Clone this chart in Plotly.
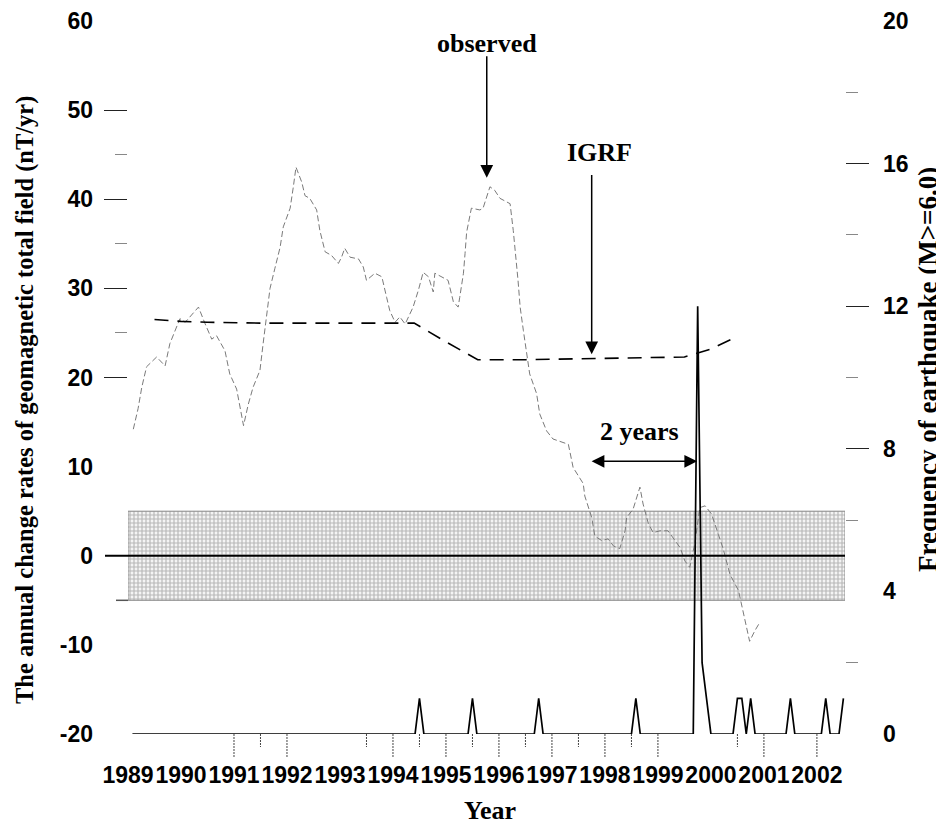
import plotly.graph_objects as go

# ---------------- data ----------------
YEARS = list(range(1989, 2003))
YEAR_LABELS = [str(y) for y in YEARS]
LEFT_TICKS = [-20, -10, 0, 10, 20, 30, 40, 50, 60]
LEFT_LABELS = ["-20", "-10", "0", "10", "20", "30", "40", "50", "60"]
RIGHT_TICKS = [0, 4, 8, 12, 16, 20]

# observed annual change rate (nT/yr), decimal year
OBS_X = [1989.10, 1989.19, 1989.26, 1989.35, 1989.54, 1989.70, 1989.79, 1989.92, 1989.98,
         1990.08, 1990.33, 1990.45, 1990.58, 1990.67, 1990.83, 1990.92, 1991.05, 1991.18,
         1991.27, 1991.36, 1991.49, 1991.55, 1991.62, 1991.68, 1991.77, 1991.87, 1991.93,
         1992.06, 1992.12, 1992.17, 1992.28, 1992.34, 1992.43, 1992.56, 1992.62, 1992.72,
         1992.84, 1992.97, 1993.03, 1993.09, 1993.19, 1993.35, 1993.44, 1993.50, 1993.66,
         1993.79, 1993.88, 1993.94, 1994.04, 1994.13, 1994.23, 1994.38, 1994.48, 1994.57,
         1994.67, 1994.76, 1994.79, 1995.04, 1995.14, 1995.23, 1995.26, 1995.33, 1995.36,
         1995.39, 1995.48, 1995.64, 1995.70, 1995.83, 1995.92, 1996.02, 1996.21, 1996.27,
         1996.36, 1996.40, 1996.46, 1996.52, 1996.58, 1996.71, 1996.77, 1996.90, 1997.02,
         1997.31, 1997.40, 1997.59, 1997.62, 1997.75, 1997.81, 1997.94, 1998.06, 1998.16,
         1998.28, 1998.38, 1998.41, 1998.53, 1998.66, 1998.72, 1998.82, 1998.91, 1999.04,
         1999.19, 1999.42, 1999.51, 1999.60, 1999.70, 1999.79, 1999.89, 2000.01, 2000.14,
         2000.23, 2000.36, 2000.52, 2000.59, 2000.62, 2000.73, 2000.83, 2000.92]
OBS_Y = [14.2, 16.5, 18.9, 21.2, 22.3, 21.3, 23.8, 25.7, 26.6,
         26.2, 27.9, 26.1, 24.3, 24.7, 23.0, 20.4, 18.7, 14.6,
         17.0, 18.9, 20.8, 23.8, 27.5, 30.0, 32.2, 34.6, 36.9,
         39.0, 41.4, 43.6, 41.9, 40.4, 40.1, 38.8, 36.5, 34.1,
         33.7, 32.8, 33.5, 34.5, 33.5, 33.3, 32.4, 30.9, 31.7,
         31.3, 29.0, 27.5, 26.2, 26.8, 26.0, 27.9, 29.8, 31.8,
         31.3, 29.6, 31.7, 30.9, 28.5, 27.9, 29.0, 31.7, 33.9,
         36.3, 39.0, 38.8, 39.0, 41.4, 41.0, 40.1, 39.5, 36.5,
         30.9, 27.9, 25.3, 22.6, 20.4, 18.2, 15.9, 14.0, 13.1,
         12.5, 9.9, 8.1, 6.7, 4.3, 2.2, 1.7, 1.9, 1.1,
         0.8, 2.8, 4.3, 5.2, 7.7, 5.8, 3.6, 2.6, 2.8,
         2.8, 0.9, -0.6, -1.3, 1.5, 5.4, 5.6, 4.7, 2.4,
         0.8, -2.1, -3.9, -5.8, -6.7, -9.6, -8.4, -7.5]

# IGRF model change rate (nT/yr)
IGRF_X = [1989.5, 1990.0, 1990.5, 1991.5, 1992.5, 1993.5, 1994.4, 1995.0, 1995.6,
          1996.5, 1997.5, 1998.5, 1999.5, 2000.0, 2000.5]
IGRF_Y = [26.5, 26.3, 26.2, 26.1, 26.1, 26.1, 26.1, 24.0, 22.0,
          22.0, 22.1, 22.2, 22.3, 23.2, 24.6]

# earthquake frequency (M>=6.0), months counted from Jan 1989
EQ_FIRST_MONTH = 1
EQ_LAST_MONTH = 162
EQ_EVENT_MONTHS = [66, 78, 93, 115, 129, 130, 131, 138, 139, 141, 150, 158, 162]
EQ_EVENT_COUNTS = [1, 1, 1, 1, 12, 2, 1, 1, 1, 1, 1, 1, 1]

BAND_LIMIT = 5  # +/- band (nT/yr)

# x tick marks (half-year), long and short
X_TICKS_LONG = [1991.0, 1992.0, 1994.0, 1995.0, 1996.0, 1997.0, 1998.0, 1999.0, 2001.0, 2002.0]
X_TICKS_SHORT = [1991.5, 1993.5, 1994.5, 1995.5, 1996.5, 1997.5, 1998.5, 2000.5]

X_RANGE = [1989.0, 2002.53]
Y_LEFT_RANGE = [-20, 60]
Y_RIGHT_RANGE = [0, 20]

# ---------------- build ----------------
eq_counts = {m: c for m, c in zip(EQ_EVENT_MONTHS, EQ_EVENT_COUNTS)}
eq_x = [1989 + m / 12 for m in range(EQ_FIRST_MONTH, EQ_LAST_MONTH + 1)]
eq_y = [eq_counts.get(m, 0) for m in range(EQ_FIRST_MONTH, EQ_LAST_MONTH + 1)]

SANS = "Liberation Sans"
SERIF = "Liberation Serif"

# page body has an 8px margin, so the figure is sized/offset to compensate
W, H = 936, 818
ML, MR, MT, MB = 120, 99, 13, 92
PW = W - ML - MR   # 717
PH = H - MT - MB   # 713

fig = go.Figure()

# band
fig.add_trace(go.Scatter(
    x=[X_RANGE[0], X_RANGE[1], X_RANGE[1], X_RANGE[0], X_RANGE[0]],
    y=[-BAND_LIMIT, -BAND_LIMIT, BAND_LIMIT, BAND_LIMIT, -BAND_LIMIT],
    fill="toself", mode="lines",
    line=dict(color="#8a8a8a", width=1),
    fillcolor="white",
    fillpattern=dict(shape="+", size=4, solidity=0.5, fgcolor="#7c7c7c", bgcolor="#f4f4f4"),
    hoverinfo="skip", showlegend=False, yaxis="y"))

fig.add_trace(go.Scatter(x=OBS_X, y=OBS_Y, mode="lines",
                         line=dict(color="#7a7a7a", width=1, dash="6px,3px"),
                         showlegend=False, yaxis="y"))
fig.add_trace(go.Scatter(x=IGRF_X, y=IGRF_Y, mode="lines",
                         line=dict(color="black", width=1.6, dash="14px,9px"),
                         showlegend=False, yaxis="y"))
fig.add_trace(go.Scatter(x=eq_x, y=eq_y, mode="lines",
                         line=dict(color="black", width=1.7),
                         showlegend=False, yaxis="y2", cliponaxis=False))
# empty traces so the tick-only axes get drawn
fig.add_trace(go.Scatter(x=[], y=[], yaxis="y3", showlegend=False, hoverinfo="skip"))
fig.add_trace(go.Scatter(x=[], y=[], yaxis="y4", showlegend=False, hoverinfo="skip"))

# zero line and band bottom extension
fig.add_shape(type="line", xref="paper", yref="y", x0=-23 / PW, x1=1, y0=0, y1=0,
              line=dict(color="black", width=2), layer="above")
fig.add_shape(type="line", xref="paper", yref="y", x0=-12 / PW, x1=0, y0=-BAND_LIMIT, y1=-BAND_LIMIT,
              line=dict(color="#555", width=1.5), layer="above")

# dotted x tick marks
for xv in X_TICKS_LONG:
    fig.add_shape(type="line", xref="x", yref="paper", x0=xv, x1=xv, y0=0, y1=-24 / PH,
                  line=dict(color="#444", width=1, dash="2px,1px"))
for xv in X_TICKS_SHORT:
    fig.add_shape(type="line", xref="x", yref="paper", x0=xv, x1=xv, y0=0, y1=-13 / PH,
                  line=dict(color="#444", width=1, dash="2px,1px"))

tickfont = dict(family=SANS, size=23, color="black", weight="bold")
titlefont = dict(family=SERIF, size=24.5, color="black", weight="bold")
notefont = dict(family=SERIF, size=26, color="black", weight="bold")

fig.update_layout(
    width=W, height=H,
    margin=dict(l=ML, r=MR, t=MT, b=MB, autoexpand=False),
    paper_bgcolor="white", plot_bgcolor="white",
    showlegend=False,
    xaxis=dict(range=X_RANGE, tickvals=YEARS, ticktext=YEAR_LABELS, ticks="", tickangle=0,
               showgrid=False, zeroline=False, showline=False, automargin=False,
               tickfont=tickfont, ticklabelstandoff=25),
    yaxis=dict(range=Y_LEFT_RANGE, tickvals=LEFT_TICKS, ticktext=LEFT_LABELS, ticks="",
               showgrid=False, zeroline=False, showline=False, automargin=False,
               tickfont=tickfont, ticklabelstandoff=34),
    yaxis3=dict(range=Y_LEFT_RANGE, overlaying="y", side="left", automargin=False,
                tickvals=[20, 30, 40, 50], ticks="outside", ticklen=23, tickwidth=1,
                tickcolor="#222", showticklabels=False, showgrid=False, zeroline=False,
                showline=False,
                minor=dict(tickvals=[25, 35, 45], ticks="outside", ticklen=12,
                           tickcolor="#888", tickwidth=1, showgrid=False)),
    yaxis2=dict(range=Y_RIGHT_RANGE, overlaying="y", side="right", automargin=False,
                tickvals=RIGHT_TICKS, ticks="",
                showgrid=False, zeroline=False, showline=False,
                tickfont=tickfont, ticklabelstandoff=37),
    yaxis4=dict(range=Y_RIGHT_RANGE, overlaying="y", side="right", automargin=False,
                tickvals=[8, 12, 16], ticks="outside", ticklen=23, tickwidth=1,
                tickcolor="#222", showticklabels=False, showgrid=False, zeroline=False,
                showline=False,
                minor=dict(tickvals=[2, 6, 10, 14, 18], ticks="outside", ticklen=12,
                           tickcolor="#888", tickwidth=1, showgrid=False)),
)

# titles (positions relative to the plot area)
fig.add_annotation(text="The annual change rates of geomagnetic total field (nT/yr)",
                   xref="paper", yref="paper", x=-103 / PW, y=(713 - 379) / PH,
                   xanchor="center", yanchor="middle", textangle=-90,
                   showarrow=False, font=titlefont)
fig.add_annotation(text="Frequency of earthquake (M>=6.0)",
                   xref="paper", yref="paper", x=(800) / PW, y=(713 - 349) / PH,
                   xanchor="center", yanchor="middle", textangle=-90,
                   showarrow=False, font=dict(family=SERIF, size=27, color="black", weight="bold"))
fig.add_annotation(text="Year", xref="paper", yref="paper",
                   x=362 / PW, y=-77 / PH,
                   xanchor="center", yanchor="middle", showarrow=False, font=notefont)

# callouts
fig.add_annotation(text="observed", x=1995.77, y=57.5, xref="x", yref="y",
                   showarrow=False, font=notefont, yanchor="middle")
fig.add_annotation(text="", x=1995.77, y=42.4, ax=1995.77, ay=56.2, xref="x", yref="y",
                   axref="x", ayref="y", showarrow=True, arrowhead=2, arrowsize=1.7,
                   arrowwidth=1.5, arrowcolor="black")
fig.add_annotation(text="IGRF", x=1997.9, y=45.2, xref="x", yref="y",
                   showarrow=False, font=notefont, yanchor="middle")
fig.add_annotation(text="", x=1997.75, y=22.6, ax=1997.75, ay=42.9, xref="x", yref="y",
                   axref="x", ayref="y", showarrow=True, arrowhead=2, arrowsize=1.7,
                   arrowwidth=1.5, arrowcolor="black")
fig.add_annotation(text="2 years", x=1998.66, y=13.9, xref="x", yref="y",
                   showarrow=False, font=notefont, yanchor="middle")
fig.add_annotation(text="", x=1999.74, y=10.6, ax=1997.72, ay=10.6, xref="x", yref="y",
                   axref="x", ayref="y", showarrow=True, arrowhead=2, arrowside="end+start",
                   arrowsize=1.7, arrowwidth=1.5, arrowcolor="black")

fig.write_html("out.html")
